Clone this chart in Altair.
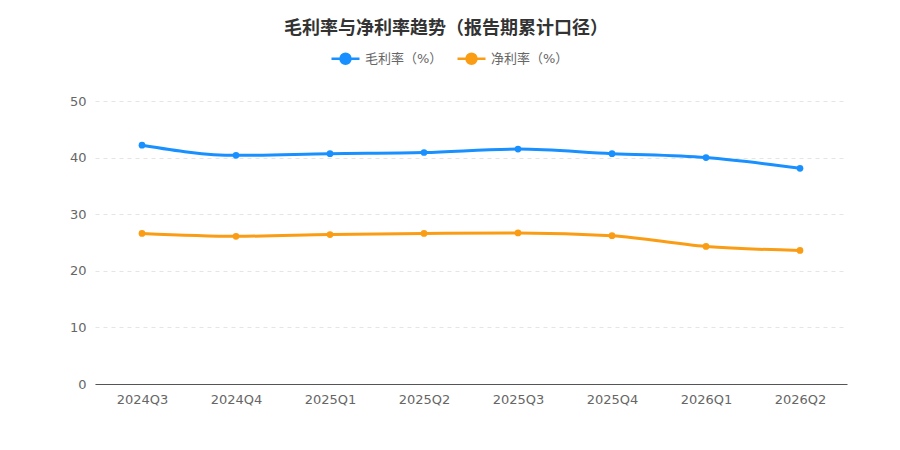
import altair as alt
import pandas as pd

periods = ["2024Q3", "2024Q4", "2025Q1", "2025Q2", "2025Q3", "2025Q4", "2026Q1", "2026Q2"]
gross_margin = [42.2, 40.4, 40.7, 40.9, 41.5, 40.7, 40.0, 38.1]
net_margin = [26.6, 26.1, 26.4, 26.6, 26.7, 26.2, 24.3, 23.6]
series_names = ["毛利率（%）", "净利率（%）"]
colors = ["#1890ff", "#fa9d14"]

rows = []
for p, g, n in zip(periods, gross_margin, net_margin):
    rows.append({"period": p, "series": series_names[0], "value": g})
    rows.append({"period": p, "series": series_names[1], "value": n})
df = pd.DataFrame(rows)

FONT = "'DejaVu Sans', 'Noto Sans CJK SC', sans-serif"

x = alt.X("period:N", sort=periods, title=None,
          scale=alt.Scale(type="point", padding=0.5),
          axis=alt.Axis(labelAngle=0, ticks=False, domain=True, domainColor="#555",
                        domainWidth=1.2, grid=False, labelPadding=9, labelFontSize=13,
                        labelColor="#666", labelFont=FONT))
y = alt.Y("value:Q", title=None,
          scale=alt.Scale(domain=[0, 50], nice=False),
          axis=alt.Axis(values=[0, 10, 20, 30, 40, 50], ticks=False, domain=False,
                        gridDash=[4, 4], gridColor="#e5e5e5", labelPadding=9,
                        labelFontSize=13, labelColor="#666", labelFont=FONT))
color = alt.Color("series:N", sort=series_names,
                  scale=alt.Scale(domain=series_names, range=colors),
                  legend=alt.Legend(title=None, orient="none", direction="horizontal",
                                    legendX=239, legendY=-54,
                                    symbolType="M-1.4,0L1.4,0M-0.5,0A0.5,0.5 0 1,0 0.5,0A0.5,0.5 0 1,0 -0.5,0Z",
                                    symbolSize=400, symbolStrokeWidth=2.5,
                                    labelOffset=8, columnPadding=9,
                                    labelFontSize=13, labelColor="#666", labelFont=FONT))

base = alt.Chart(df).encode(x=x, y=y, color=color)
lines = base.mark_line(interpolate="monotone", strokeWidth=3)
points = base.mark_point(filled=True, size=45, opacity=1)

chart = (lines + points).properties(
    width=752, height=283,
    title=alt.TitleParams("毛利率与净利率趋势（报告期累计口径）", fontSize=18, fontWeight="bold",
                          color="#333", font=FONT, offset=9, dx=-25),
    autosize=alt.AutoSizeParams(type="none"),
    padding={"left": 87, "top": 93, "right": 45, "bottom": 58},
).configure(font=FONT).configure_view(stroke=None)

chart.save("out.html", embed_options={"renderer": "svg", "actions": False})
